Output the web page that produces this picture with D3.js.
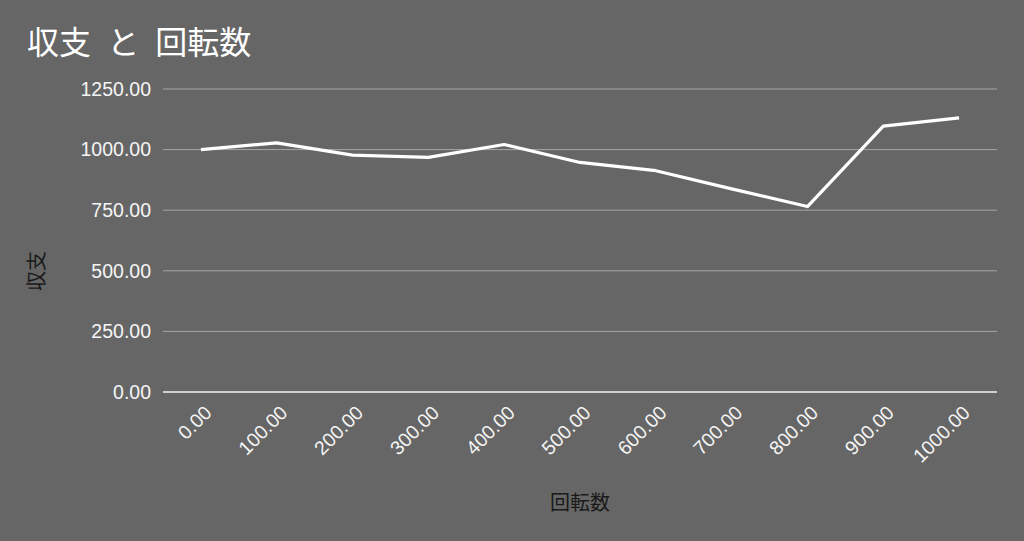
<!DOCTYPE html>
<html><head><meta charset="utf-8">
<script src="https://cdn.jsdelivr.net/npm/d3@7"></script>
<style>body{margin:0;background:#666666;}svg{display:block;}</style>
</head><body>
<svg id="c" width="1024" height="541"></svg>
<script>
const categories = [0,100,200,300,400,500,600,700,800,900,1000];
const values = [1000,1028,977,968,1021,947,913,838,765,1097,1131];
const yTicks = [0,250,500,750,1000,1250];

const svg = d3.select("#c");
const W = 1024, H = 541;
const m = {left:163, right:27, top:89, bottom:149};
const x = d3.scaleBand().domain(categories).range([m.left, W - m.right]);
const y = d3.scaleLinear().domain([0,1250]).range([H - m.bottom, m.top]);
const font = "'Liberation Sans', Arial, sans-serif";
const cjk = "'Noto Sans CJK JP', sans-serif";

svg.append("rect").attr("width",W).attr("height",H).attr("fill","#666666");

// gridlines
svg.append("g").selectAll("line").data(yTicks.filter(d=>d>0)).join("line")
  .attr("x1", m.left).attr("x2", W - m.right)
  .attr("y1", d=>y(d)).attr("y2", d=>y(d))
  .attr("stroke","#a6a6a6").attr("stroke-width",1);
// zero baseline
svg.append("line").attr("x1", m.left).attr("x2", W - m.right)
  .attr("y1", y(0)).attr("y2", y(0)).attr("stroke","#f5f5f5").attr("stroke-width",1.5);

// y axis labels
const yAxis = d3.axisLeft(y).tickValues(yTicks).tickFormat(d3.format(".2f")).tickSize(0).tickPadding(12);
const gy = svg.append("g").attr("transform",`translate(${m.left},0)`).call(yAxis);
gy.select(".domain").remove();
gy.selectAll("text").attr("fill","#f5f5f5").style("font-family",font).style("font-size","19.5px");

// x axis labels
const xAxis = d3.axisBottom(x).tickFormat(d3.format(".2f")).tickSize(0).tickPadding(0);
const gx = svg.append("g").attr("transform",`translate(0,${y(0)})`).call(xAxis);
gx.select(".domain").remove();
gx.selectAll("text").attr("fill","#f5f5f5").style("font-family",font).style("font-size","19.5px")
  .attr("text-anchor","end").attr("dy",null).attr("y",0)
  .attr("transform","translate(12,22) rotate(-45)");

// line
const line = d3.line().x((d,i)=>x(categories[i]) + x.bandwidth()/2).y(d=>y(d));
svg.append("path").datum(values).attr("d",line).attr("fill","none")
  .attr("stroke","#ffffff").attr("stroke-width",3.2).attr("stroke-linejoin","round");

// titles
svg.append("text").attr("x",27).attr("y",54).attr("xml:space","preserve").text("収支 と 回転数")
  .attr("fill","#ffffff").style("font-family",cjk).style("font-size","32px").style("word-spacing","9px");
svg.append("text").attr("transform",`translate(44,271) rotate(-90)`)
  .attr("text-anchor","middle").text("収支")
  .attr("fill","#1a1a1a").style("font-family",cjk).style("font-size","20px");
svg.append("text").attr("x",580).attr("y",510).attr("text-anchor","middle").text("回転数")
  .attr("fill","#1a1a1a").style("font-family",cjk).style("font-size","20px");
</script>
</body></html>
